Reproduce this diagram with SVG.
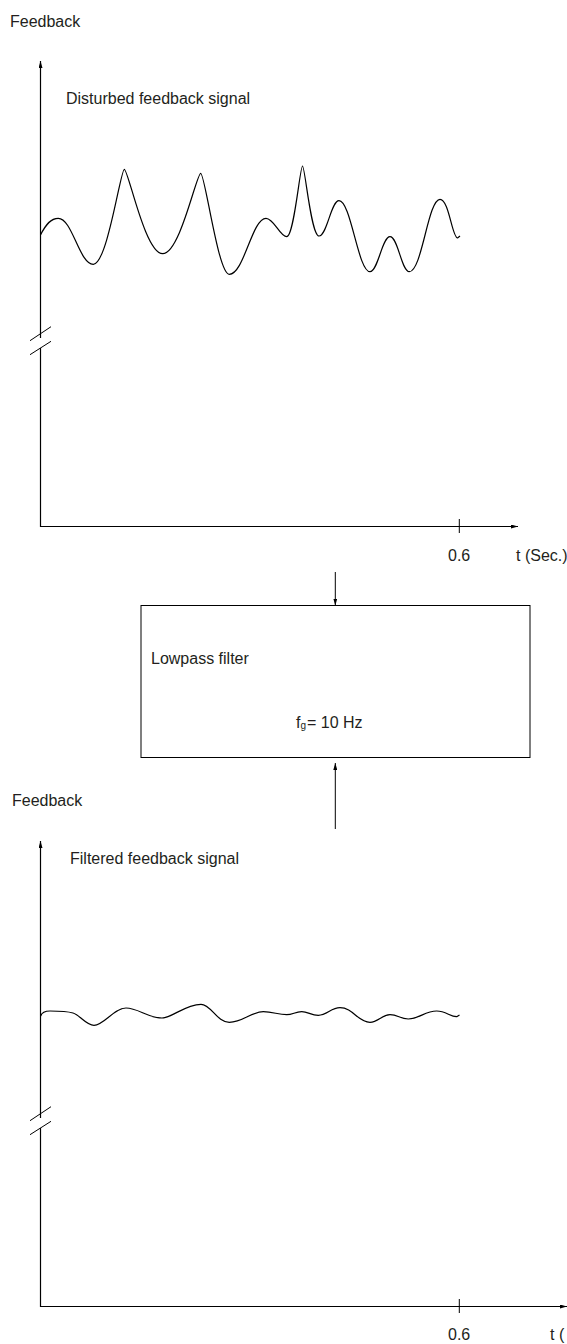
<svg xmlns="http://www.w3.org/2000/svg" width="567" height="1344" viewBox="0 0 567 1344">
  <style>
    .t { font-family: "Liberation Sans", Arial, sans-serif; font-size: 16px; fill: #231f20; }
    .ax { stroke: #000; stroke-width: 1.2; fill: none; }
    .sig { stroke: #000; stroke-width: 1.2; fill: none; stroke-linejoin: round; }
    .thin { stroke: #000; stroke-width: 1; fill: none; }
  </style>
  <defs>
    <marker id="ah" markerWidth="7" markerHeight="4" refX="7" refY="2" orient="auto" markerUnits="userSpaceOnUse">
      <path d="M0,0 L7,2 L0,4 Z" fill="#000"/>
    </marker>
  </defs>
  <rect width="567" height="1344" fill="#fff"/>

  <!-- Top chart -->
  <g id="chart-top">
    <text class="t" x="10" y="27">Feedback</text>
    <text class="t" x="66" y="104">Disturbed feedback signal</text>
    <line class="ax" x1="40.5" y1="338" x2="40.5" y2="61" marker-end="url(#ah)"/>
    <line class="ax" x1="40.5" y1="348" x2="40.5" y2="527"/>
    <line class="thin" x1="30" y1="340.7" x2="51" y2="326.7"/>
    <line class="thin" x1="30" y1="354.7" x2="51" y2="341.3"/>
    <line class="ax" x1="40" y1="526.5" x2="518" y2="526.5" marker-end="url(#ah)"/>
    <line class="thin" x1="459.3" y1="519" x2="459.3" y2="533"/>
    <text class="t" x="448" y="561">0.6</text>
    <text class="t" x="516" y="561">t (Sec.)</text>
    <path class="sig" d="M40.5,235 C46,224 51,218.3 58.3,218.3 C72.3,218.3 79.3,264.3 93.3,264.3 C107.3,264.3 120.6,169.3 124.3,169.3 C128.3,169.3 145,253.7 162.7,253.7 C180,253.7 196.5,173.3 200.7,173.3 C205,173.3 218,274.3 229.3,274.3 C244,274.3 252,218.3 266,218.3 C274,218.3 280,236.7 286.7,236.7 C294,236.7 300,166 302.5,166 C305,166 311,236 319,236 C327,236 331,200.7 339,200.7 C351,200.7 358,271.7 370,271.7 C378,271.7 382,236.7 390,236.7 C398,236.7 401.5,271.7 409.3,271.7 C422,271.7 428,199.3 440,199.3 C449,199.3 452,237.3 457.5,238 L460,236"/>
  </g>

  <!-- Filter block -->
  <g id="filter">
    <rect class="thin" x="141" y="605.5" width="389" height="152"/>
    <text class="t" x="151" y="664">Lowpass filter</text>
    <text class="t" x="296" y="728">f<tspan font-size="10" dy="1">g</tspan><tspan x="307" dy="-1">= 10 Hz</tspan></text>
  </g>

  <g id="connectors">
    <line class="thin" x1="335.3" y1="572" x2="335.3" y2="605.5" marker-end="url(#ah)"/>
    <line class="thin" x1="335.3" y1="829" x2="335.3" y2="763" marker-end="url(#ah)"/>
  </g>

  <!-- Bottom chart -->
  <g id="chart-bottom">
    <text class="t" x="12" y="806">Feedback</text>
    <text class="t" x="70" y="864">Filtered feedback signal</text>
    <line class="ax" x1="40.5" y1="1118" x2="40.5" y2="841" marker-end="url(#ah)"/>
    <line class="ax" x1="40.5" y1="1128" x2="40.5" y2="1307"/>
    <line class="thin" x1="30" y1="1120.7" x2="51" y2="1106.7"/>
    <line class="thin" x1="30" y1="1134.7" x2="51" y2="1121.3"/>
    <line class="ax" x1="40" y1="1306.5" x2="567" y2="1306.5" marker-end="url(#ah)"/>
    <line class="thin" x1="459.3" y1="1299" x2="459.3" y2="1313"/>
    <text class="t" x="448" y="1340">0.6</text>
    <text class="t" x="550" y="1340">t (</text>
    <path class="sig" d="M40.7,1016 C42,1012 45,1011 50,1011 C60,1011 68,1011.5 73,1013 C80,1015 86,1025.3 94,1025.3 C104,1025.3 114,1008 126,1008 C138,1008 148,1018 162,1018 C172,1018 185,1004.3 201,1004.3 C211,1004.3 217,1022.3 229.3,1022.3 C243,1022.3 251,1011.7 263.3,1011.7 C273,1011.7 278,1014.7 286.7,1014.7 C293,1014.7 295,1011.7 301.7,1011.7 C308,1011.7 311,1015.3 318.3,1015.3 C327,1015.3 331,1007.7 340,1007.7 C353,1007.7 358,1022.3 370,1022.3 C378,1022.3 382,1014.7 390,1014.7 C398,1014.7 400,1019 408.3,1019 C419,1019 425,1011 436.7,1011 C446,1011 450,1016.7 456.7,1016.7 L459.5,1015"/>
  </g>
</svg>
